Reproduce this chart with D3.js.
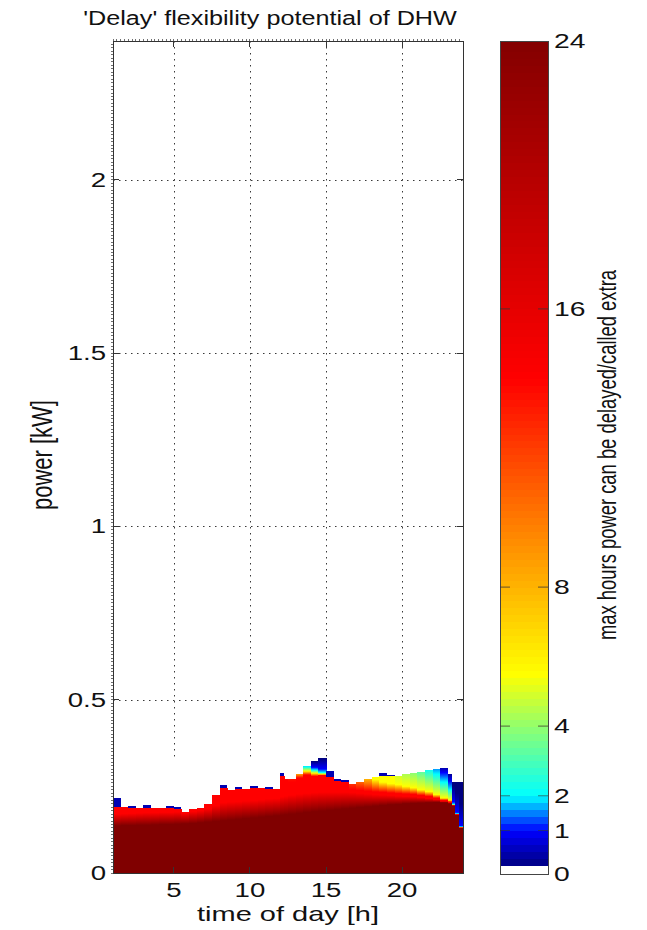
<!DOCTYPE html>
<html>
<head>
<meta charset="utf-8">
<script src="https://cdn.jsdelivr.net/npm/d3@7"></script>
<style>
  body { margin: 0; background: #fff; }
  text { font-family: Arial, "Liberation Sans", Helvetica, sans-serif; fill: #111; }
</style>
</head>
<body>
<div id="chart"></div>
<script>
// column start times [h]; a column runs to the next start, the last one to 24
const hours = [1,1.5,2,2.5,3,3.5,4,4.5,5,5.5,6,6.5,7,7.5,8,8.5,9,9.5,10,10.5,11,11.5,
  12,12.25,12.5,13,13.5,14,14.5,15,15.5,16,16.5,17,17.5,18,18.5,19,19.5,20,20.5,21,21.5,22,22.5,
  23,23.25,23.5,23.75];
const hourEnd = 24;

// top of the coloured part of each column [kW]
const topKW = [0.190,0.189,0.187,0.187,0.188,0.187,0.188,0.187,0.186,0.177,
  0.186,0.188,0.200,0.226,0.246,0.239,0.242,0.243,0.244,0.244,
  0.242,0.241,0.281,0.271,0.271,0.285,0.309,0.322,0.331,0.276,
  0.264,0.262,0.257,0.262,0.272,0.276,0.280,0.279,0.279,0.286,
  0.289,0.292,0.297,0.300,0.303,0.285,0.262,0.262,0.262];

// single dark-blue cell sitting on top of some columns [kW]
const speckKW = [0.215,null,0.193,null,0.196,null,null,0.192,0.191,null,
  null,null,null,null,0.253,null,0.249,null,0.250,null,
  0.249,null,0.289,null,null,null,null,null,null,0.294,
  0.271,0.268,null,null,null,null,0.289,0.284,null,null,
  null,null,null,null,null,null,null,null,null];
const speckHours = 0.4;

// power [kW] where the delay reaches a given number of hours (null: not in column)
const kwDark = [0.136,0.137,0.137,0.138,0.138,0.139,0.140,0.140,0.141,0.142,
  0.143,0.145,0.147,0.149,0.151,0.153,0.155,0.157,0.159,0.161,
  0.163,0.165,0.167,0.168,0.170,0.172,0.175,0.177,0.179,0.181,
  0.183,0.185,0.187,0.189,0.191,0.193,0.195,0.197,0.198,0.200,
  0.201,0.202,0.203,0.204,0.203,0.200,0.194,0.167,0.129];       // 24 h
const kwRed = [0.170,0.171,0.172,0.173,0.174,0.174,0.175,0.175,0.176,0.172,
  0.177,0.180,0.185,0.195,0.203,0.205,0.206,0.208,0.210,0.212,
  0.214,0.215,0.220,0.222,0.225,0.228,0.230,0.232,0.233,0.233,
  0.233,0.233,0.232,0.230,0.228,0.226,0.225,0.224,0.222,0.221,
  0.220,0.218,0.215,0.212,0.207,0.203,0.195,0.168,0.130];       // 14 h, lower end
const kwRedTop = [null,null,null,null,null,null,null,null,null,null,
  null,null,null,null,null,null,null,null,null,null,
  null,null,null,null,0.262,0.274,0.283,0.279,0.282,null,
  null,null,0.240,0.238,0.236,0.234,0.233,0.231,0.229,0.228,
  0.227,0.224,0.221,0.216,0.210,0.205,0.196,0.169,0.131];       // 14 h, upper end
const kwYellow = [null,null,null,null,null,null,null,null,null,null,
  null,null,null,null,null,null,null,null,null,null,
  null,null,null,null,0.420,0.292,0.294,0.288,0.285,null,
  null,null,0.330,0.300,0.285,0.270,0.262,0.258,0.255,0.250,
  0.246,0.240,0.235,0.226,0.216,0.210,0.197,0.170,0.132];       // 5.5 h
const kwCyan = [null,null,null,null,null,null,null,null,null,null,
  null,null,null,null,null,null,null,null,null,null,
  null,null,null,null,null,null,0.306,0.297,0.290,null,
  null,null,null,null,null,null,null,null,0.400,0.360,
  0.340,0.320,0.300,0.285,0.262,0.240,0.198,0.171,0.133];       // 2 h
const kwBlue = [null,null,null,null,null,null,null,null,null,null,
  null,null,null,null,null,null,null,null,null,null,
  null,null,null,null,null,null,0.330,0.305,0.300,null,
  null,null,null,null,null,null,null,null,null,null,
  null,null,0.340,0.322,0.290,0.265,0.205,0.175,0.137];         // 1 h
const kwNavy = [null,null,null,null,null,null,null,null,null,null,
  null,null,null,null,null,null,null,null,null,null,
  null,null,null,null,null,null,null,0.322,0.330,null,
  null,null,null,null,null,null,null,null,null,null,
  null,null,null,null,0.310,0.290,0.250,0.230,0.200];           // 0 h
const levelHours = [24, 14, 14, 5.5, 2, 1, 0];
const levelKW = [kwDark, kwRed, kwRedTop, kwYellow, kwCyan, kwBlue, kwNavy];
const cellTopKW = 0.335;   // extent of the white (0 h) cells

// axes
const xTicks = [5, 10, 15, 20];
const yTicks = [0, 0.5, 1, 1.5, 2];
const yTickLabels = ['0', '0.5', '1', '1.5', '2'];

// colour bar
const jetHours = [0, 1, 2, 5.5, 14, 24];
const jetColors = ['#000080', '#0000ff', '#00ffff', '#ffff00', '#ff0000', '#800000'];
const cbTickLabels = ['0', '1', '2', '4', '8', '16', '24'];
const cbTickAt = [-0.25, 1, 2, 4, 8, 16, 23.7];
const cbLo = -0.25, cbHi = 23.7, cbStep = 0.2;

const W = 647, H = 930;
const sx = 1.38; // the figure is stretched horizontally

const svg = d3.select('#chart').append('svg')
  .attr('width', W).attr('height', H);
const defs = svg.append('defs');

const x = d3.scaleLinear().domain([1, 24]).range([113, 463]);
const y = d3.scaleLinear().domain([0, 2.4]).range([873, 41]);
const color = d3.scaleLinear().domain(jetHours).range(jetColors).clamp(true);

function label(g, px, py, str, size, anchor, rot, stretch) {
  return g.append('text')
    .attr('transform', 'translate(' + px + ',' + py + ') scale(' + (stretch || sx) + ',1)' + (rot ? ' rotate(-90)' : ''))
    .attr('text-anchor', anchor)
    .style('font-size', size + 'px')
    .text(str);
}

// grid
const grid = svg.append('g')
  .attr('stroke', '#222').attr('stroke-width', 0.9).attr('stroke-dasharray', '1.5,4.5');
grid.selectAll('.gx').data(xTicks).join('line')
  .attr('x1', d => Math.round(x(d)) + 0.5).attr('x2', d => Math.round(x(d)) + 0.5)
  .attr('y1', y(2.4)).attr('y2', y(0));
grid.selectAll('.gy').data(yTicks.slice(1)).join('line')
  .attr('x1', x(1)).attr('x2', x(24))
  .attr('y1', d => Math.round(y(d)) + 0.5).attr('y2', d => Math.round(y(d)) + 0.5);

// cells with 0 h are white and hide the grid
svg.append('rect')
  .attr('x', x(1)).attr('width', x(24) - x(1))
  .attr('y', y(cellTopKW)).attr('height', y(0) - y(cellTopKW))
  .attr('fill', '#fff');

// columns, each coloured by a vertical gradient through its level powers
const gTop = 0.45;
const cols = hours.map((h, i) => ({
  i: i, t0: h, t1: i < hours.length - 1 ? hours[i + 1] : hourEnd,
  top: topKW[i], speck: speckKW[i],
  stops: levelKW.map((arr, j) => ({ kw: arr[i], h: levelHours[j] })).filter(s => s.kw !== null)
}));

cols.forEach(c => {
  const gr = defs.append('linearGradient')
    .attr('id', 'col' + c.i)
    .attr('gradientUnits', 'userSpaceOnUse')
    .attr('x1', 0).attr('x2', 0)
    .attr('y1', y(0)).attr('y2', y(gTop));
  gr.selectAll('stop').data(c.stops).join('stop')
    .attr('offset', s => s.kw / gTop)
    .attr('stop-color', s => color(s.h));
});

const heat = svg.append('g').attr('shape-rendering', 'crispEdges');
heat.selectAll('rect.col').data(cols).join('rect')
  .attr('class', 'col')
  .attr('x', d => x(d.t0))
  .attr('width', d => x(d.t1) - x(d.t0) + 0.6)
  .attr('y', d => y(d.top))
  .attr('height', d => y(0) - y(d.top))
  .attr('fill', d => 'url(#col' + d.i + ')');

heat.selectAll('rect.speck').data(cols.filter(d => d.speck !== null)).join('rect')
  .attr('class', 'speck')
  .attr('x', d => x(d.t0))
  .attr('width', d => x(d.t1) - x(d.t0))
  .attr('y', d => y(d.speck))
  .attr('height', d => y(d.top) - y(d.speck))
  .attr('fill', color(speckHours));

// frame and ticks
const frame = svg.append('g').attr('stroke', '#333').attr('stroke-width', 1).attr('shape-rendering', 'crispEdges');
frame.append('rect')
  .attr('x', x(1)).attr('y', y(2.4))
  .attr('width', x(24) - x(1)).attr('height', y(0) - y(2.4))
  .attr('fill', 'none');
frame.selectAll('.tx').data(xTicks).join('path')
  .attr('d', d => 'M' + x(d) + ',' + y(0) + 'v-6M' + x(d) + ',' + y(2.4) + 'v6');
frame.selectAll('.ty').data(yTicks.slice(1)).join('path')
  .attr('d', d => 'M' + x(1) + ',' + y(d) + 'h6M' + x(24) + ',' + y(d) + 'h-6');
// minor ticks on the left and top edges
frame.selectAll('.my').data(d3.range(0, 2.4, 0.01)).join('path')
  .attr('stroke-width', 0.7)
  .attr('d', d => 'M' + (x(1) - 2) + ',' + y(d) + 'h2');
frame.selectAll('.mx').data(d3.range(1, 24, 0.25)).join('path')
  .attr('stroke-width', 0.7)
  .attr('d', d => 'M' + x(d) + ',' + (y(2.4) - 2) + 'v2');

// tick labels
const labels = svg.append('g');
xTicks.forEach(d => label(labels, x(d), 897, String(d), 20, 'middle'));
yTicks.forEach((d, i) => label(labels, 106, y(d) + 7, yTickLabels[i], 20, 'end'));

// titles
label(labels, 270, 25, "'Delay' flexibility potential of DHW", 21, 'middle', false, 1.2);
label(labels, 288, 921, 'time of day [h]', 21, 'middle');
label(labels, 52, 455, 'power [kW]', 22, 'middle', true);

// colour bar
const cbX0 = 500, cbX1 = 548;
const cbY = d3.scaleLinear().domain([cbLo, cbHi]).range([874, 41]);
const bands = [{ lo: cbLo, hi: 0, fill: '#fff' }].concat(
  d3.range(0, cbHi, cbStep).map(v => ({ lo: v, hi: Math.min(v + cbStep, cbHi), fill: color(v + cbStep / 2) })));
const cb = svg.append('g');
cb.append('g').attr('shape-rendering', 'crispEdges')
  .selectAll('rect').data(bands).join('rect')
  .attr('x', cbX0).attr('width', cbX1 - cbX0)
  .attr('y', d => cbY(d.hi)).attr('height', d => cbY(d.lo) - cbY(d.hi) + 0.5)
  .attr('fill', d => d.fill);
cb.append('rect')
  .attr('x', cbX0).attr('y', cbY(cbHi))
  .attr('width', cbX1 - cbX0).attr('height', cbY(cbLo) - cbY(cbHi))
  .attr('fill', 'none').attr('stroke', '#444').attr('shape-rendering', 'crispEdges');
cb.selectAll('path.cbt').data(cbTickAt.slice(1, -1)).join('path')
  .attr('class', 'cbt')
  .attr('stroke', '#333').attr('stroke-width', 1.2).attr('stroke-opacity', 0.6)
  .attr('d', d => 'M' + cbX0 + ',' + cbY(d) + 'h10M' + cbX1 + ',' + cbY(d) + 'h-10');
cbTickAt.forEach((d, i) => label(cb, 554, cbY(d) + 7, cbTickLabels[i], 20.5, 'start'));
label(cb, 616, 455, 'max hours power can be delayed/called extra', 18.4, 'middle', true);
</script>
</body>
</html>
